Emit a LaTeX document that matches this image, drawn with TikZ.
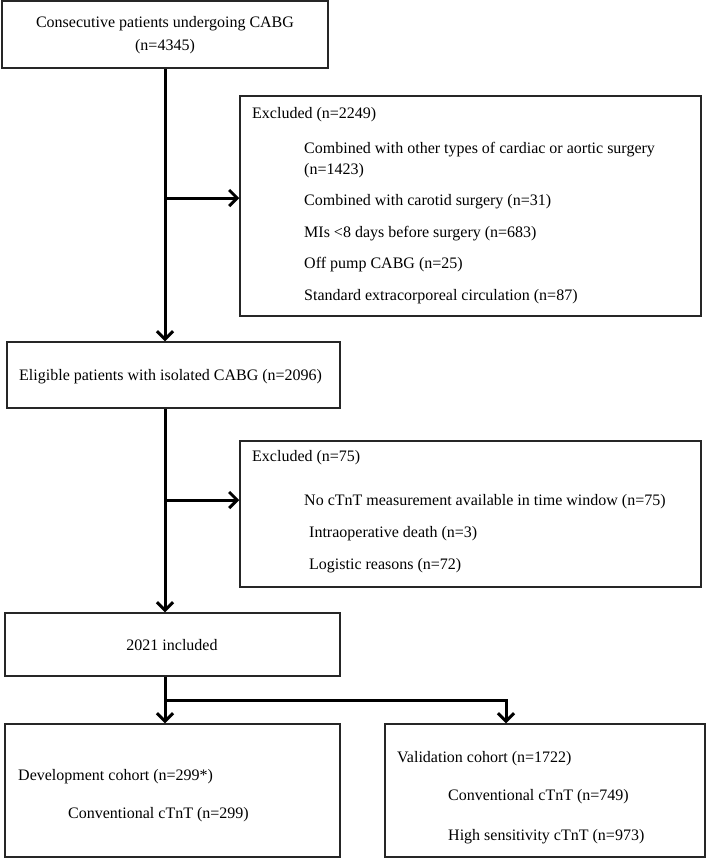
\documentclass[tikz,border=0pt]{standalone}
\usepackage{fontspec}
\setmainfont{Liberation Serif}
\usetikzlibrary{arrows.meta}
\begin{document}
\begin{tikzpicture}[x=1pt,y=-1pt,
  box/.style={draw=black!85, line width=1.5pt, rectangle, inner sep=0pt},
  txt/.style={anchor=base west, inner sep=0pt, font=\fontsize{16}{19}\selectfont},
  ctxt/.style={anchor=base, inner sep=0pt, font=\fontsize{16}{19}\selectfont},
  flow/.style={line width=3pt, -{Straight Barb[length=8pt,width=16pt]}},
  flowline/.style={line width=3pt}]
\useasboundingbox (0,0) rectangle (709,860);
% boxes
\node[box, minimum width=326pt, minimum height=67pt] (top) at (165,34.5) {};
\node[box, minimum width=461pt, minimum height=220pt] (exa) at (470.5,206) {};
\node[box, minimum width=333pt, minimum height=66pt] (elig) at (173.5,375) {};
\node[box, minimum width=461pt, minimum height=146pt] (exb) at (470.5,514) {};
\node[box, minimum width=335pt, minimum height=63pt] (inc) at (172.5,644.5) {};
\node[box, minimum width=335pt, minimum height=133pt] (dev) at (172.5,790.5) {};
\node[box, minimum width=320pt, minimum height=133pt] (val) at (545,790.5) {};
% texts
\node[ctxt] (t1) at (165,27) {Consecutive patients undergoing CABG};
\node[ctxt] (t2) at (165,50) {(n=4345)};
\node[txt] (a0) at (252,118) {Excluded (n=2249)};
\node[txt] (a1) at (304,153) {Combined with other types of cardiac or aortic surgery};
\node[txt] (a2) at (304,174) {(n=1423)};
\node[txt] (a3) at (304,205) {Combined with carotid surgery (n=31)};
\node[txt] (a4) at (304,237) {MIs <8 days before surgery (n=683)};
\node[txt] (a5) at (304,268) {Off pump CABG (n=25)};
\node[txt] (a6) at (304,300) {Standard extracorporeal circulation (n=87)};
\node[txt] (e1) at (19,380) {Eligible patients with isolated CABG (n=2096)};
\node[txt] (b0) at (252,461) {Excluded (n=75)};
\node[txt] (b1) at (304,505) {No cTnT measurement available in time window (n=75)};
\node[txt] (b2) at (309,537) {Intraoperative death (n=3)};
\node[txt] (b3) at (309,569) {Logistic reasons (n=72)};
\node[ctxt] (i1) at (172,650) {2021 included};
\node[txt] (d1) at (18,780) {Development cohort (n=299*)};
\node[txt] (d2) at (68,818) {Conventional cTnT (n=299)};
\node[txt] (v1) at (397,762) {Validation cohort (n=1722)};
\node[txt] (v2) at (448,800) {Conventional cTnT (n=749)};
\node[txt] (v3) at (448,840) {High sensitivity cTnT (n=973)};
% connectors
\coordinate (ja) at (165,198);
\coordinate (jb) at (165,500);
\coordinate (br) at (165,700);
\coordinate (brr) at (506,700);
\draw[flow] (top.south) -- (elig.north -| top.south);
\draw[flow] (ja) -- (ja -| exa.west);
\draw[flow] (elig.south -| top.south) -- (inc.north -| top.south);
\draw[flow] (jb) -- (jb -| exb.west);
\draw[flow] (inc.south -| br) -- (br) -- (dev.north -| br);
\draw[flow] (br) -- (brr) -- (val.north -| brr);
\end{tikzpicture}
\end{document}
